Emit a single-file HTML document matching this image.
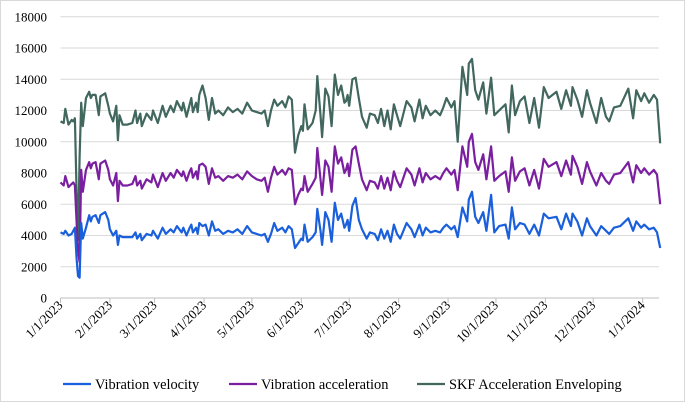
<!DOCTYPE html>
<html><head><meta charset="utf-8">
<style>
html,body{margin:0;padding:0;background:#fff;}
#wrap{position:relative;width:685px;height:402px;box-sizing:border-box;border:1px solid #d9d9d9;}
svg{position:absolute;left:0;top:0;}
text{font-family:"Liberation Serif",serif;fill:#000;}
</style></head>
<body>
<div id="wrap">
<svg id="chart" width="685" height="402"></svg>
</div>
<script>
const days=[0,2,3,5,7,8,9,10,11,12,13,14,16,18,19,20,22,24,25,28,30,31,33,35,36,37,39,42,45,47,48,50,51,54,57,58,61,64,66,69,71,73,76,77,79,81,82,83,85,86,87,89,91,93,95,97,99,102,105,108,111,114,117,120,123,126,128,130,132,134,136,139,141,143,145,147,149,151,152,153,155,158,160,161,163,164,166,168,170,172,174,176,178,179,180,181,183,185,187,189,192,194,197,199,201,203,205,207,209,211,213,217,220,222,225,227,229,232,235,238,240,242,245,247,249,252,255,256,258,260,262,265,267,270,272,275,279,281,283,285,288,291,294,297,300,303,306,311,314,317,320,321,324,327,330,332,336,339,342,344,347,351,356,359,361,364,366,369,372,374,376];
const skf=[11300,11200,12100,11100,11400,11300,11500,7000,3700,9000,12500,11000,12800,13200,12800,13000,13000,11700,12900,13100,12300,11800,11300,12300,10100,11700,11100,11100,11200,12000,11200,11800,11000,11800,11400,12000,11200,12300,11600,12300,11900,12600,12000,12500,11600,12400,12800,11900,12500,11900,13000,13600,12800,11400,12800,11800,12000,11700,12200,11900,12100,11800,12500,12000,11900,11800,12000,11000,12000,12700,12300,12600,12200,12900,12700,9300,10400,11000,10700,12400,10800,11200,12000,14200,11700,10300,13400,12900,11000,14300,13000,13600,12500,12600,13000,12300,14000,14100,12800,11600,10900,11800,11700,11200,12100,11000,12000,10800,12400,11700,11000,12600,12200,11300,12700,11500,12300,11700,12000,11700,12200,12800,12200,12600,10000,14800,13000,15000,15300,13300,12700,13800,11800,14100,11700,12000,12400,10600,13600,11700,12600,12900,11200,12800,10900,13500,12800,13200,12100,13300,12300,13500,12700,11600,13300,12500,11200,12800,11600,11300,12200,12300,13400,11500,13300,12600,13100,12500,13000,12700,9900];
const accel=[7400,7200,7800,7100,7300,7400,7200,5000,3000,2300,8200,6800,8200,8700,8300,8600,8700,7600,8600,8800,8200,7600,7200,8000,6200,7500,7200,7200,7300,7800,7200,7500,7000,7600,7400,7900,7100,8000,7500,8000,7700,8200,7800,8100,7500,8100,8300,7700,8100,7600,8500,8600,8400,7300,8300,7700,7800,7500,7800,7700,7900,7600,8100,7800,7600,7500,7700,6800,7700,8400,7900,8200,7900,8300,8200,6000,6600,7000,6900,7800,6800,7300,7700,9600,7600,6600,8800,8400,6800,9700,8600,9000,8000,8200,8600,7800,9500,9700,8600,7600,6900,7500,7400,7000,7800,7000,7700,6900,8100,7500,7100,8300,7900,7200,8300,7400,8000,7600,7800,7600,8000,8300,7900,8200,6900,9700,8400,10000,10500,8700,8200,9200,7600,9700,7500,7800,8100,6800,9000,7500,8100,8300,7200,8200,7000,8900,8400,8700,7800,8800,7900,9100,8400,7300,8700,8100,7200,8000,7500,7300,7900,8000,8700,7400,8500,8000,8300,7900,8200,7900,6000];
const velocity=[4200,4100,4300,4000,4100,4300,4500,2600,1400,1300,4800,3800,4500,5300,4900,5200,5300,4800,5300,5500,5000,4400,4000,4300,3400,4000,3900,3900,3900,4200,3800,4100,3700,4100,4000,4300,3800,4500,4100,4400,4200,4600,4200,4500,4000,4500,4700,4200,4500,4100,4800,4600,4700,4000,4900,4300,4400,4100,4300,4200,4400,4100,4600,4200,4100,4000,4100,3600,4100,4800,4300,4500,4200,4600,4400,3200,3500,3800,3700,4700,3600,3900,4200,5700,4300,3400,5500,5000,3600,6100,5000,5400,4500,4700,5000,4300,5900,6400,5000,4400,3800,4200,4100,3700,4400,3800,4300,3600,4700,4100,3800,4800,4400,3900,4700,4000,4500,4200,4300,4200,4500,4700,4400,4600,3900,5800,4900,6300,6800,5200,4800,5500,4300,6600,4200,4600,4700,3800,5800,4400,4800,4700,4100,4700,4000,5400,5100,5200,4400,5400,4600,5400,4900,4000,5100,4600,4000,4600,4300,4100,4500,4600,5100,4300,4900,4500,4700,4400,4500,4200,3200];
const yTicks=[0,2000,4000,6000,8000,10000,12000,14000,16000,18000];
const monthDays=[0,31,59,90,120,151,181,212,243,273,304,334,365];
const monthLabels=["1/1/2023","2/1/2023","3/1/2023","4/1/2023","5/1/2023","6/1/2023","7/1/2023","8/1/2023","9/1/2023","10/1/2023","11/1/2023","12/1/2023","1/1/2024"];

const NS="http://www.w3.org/2000/svg";
const svg=document.getElementById('chart');
const X0=59.5,PX=1.595,XR=658,Y0=297,YTOP=15.75,YMAX=18000;
function xs(d){return X0+d*PX;}
function ys(v){return Y0-(v/YMAX)*(Y0-YTOP);}
function mk(t,a){const e=document.createElementNS(NS,t);for(const k in a)e.setAttribute(k,a[k]);svg.appendChild(e);return e;}

yTicks.forEach(v=>{
  const g=mk('line',{x1:X0,x2:XR,y1:ys(v),y2:ys(v),stroke:'#d9d9d9','stroke-width':1});
  
  
  const t=mk('text',{x:46,y:ys(v)+4.5,'text-anchor':'end','font-size':13});
  t.textContent=v;
  
  
});
const ax=mk('line',{x1:X0,x2:XR,y1:Y0,y2:Y0,stroke:'#bfbfbf','stroke-width':1});


monthDays.forEach((d,i)=>{
  const x=xs(d);
  const tk=mk('line',{x1:x,x2:x,y1:Y0,y2:Y0+5,stroke:'#bfbfbf','stroke-width':1});
  
  
  const t=mk('text',{x:x+3,y:Y0+8,'text-anchor':'end','font-size':13,transform:`rotate(-45 ${x+3} ${Y0+8})`});
  t.textContent=monthLabels[i];
  
  
});
function series(vals,color,name){
  const pts=days.map((d,i)=>xs(d).toFixed(1)+','+ys(vals[i]).toFixed(1)).join(' ');
  const p=mk('polyline',{points:pts,fill:'none',stroke:color,'stroke-width':2.2,'stroke-linejoin':'round'});
  
  
}
series(skf,'#41675f','skf-acceleration-enveloping-line');
series(accel,'#7a1fa0','vibration-acceleration-line');
series(velocity,'#1a5fdb','vibration-velocity-line');

const legend=[["Vibration velocity",'#1a5fdb',62],["Vibration acceleration",'#7a1fa0',228],["SKF Acceleration Enveloping",'#41675f',416]];
legend.forEach(([lab,c,x])=>{
  const l=mk('line',{x1:x,x2:x+28,y1:383,y2:383,stroke:c,'stroke-width':2.2});
  
  
  const t=mk('text',{x:x+32,y:388,'font-size':14.4});
  t.textContent=lab;
  
  
});
</script>
</body></html>
